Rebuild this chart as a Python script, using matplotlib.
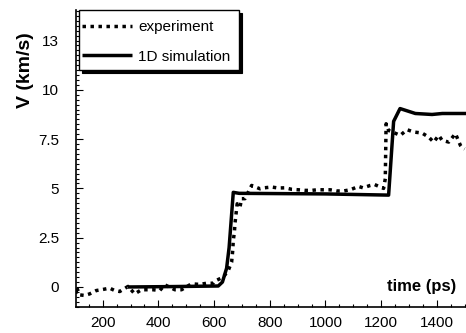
import matplotlib
matplotlib.use("Agg")
import matplotlib.pyplot as plt
from matplotlib.patches import Rectangle
from matplotlib.ticker import MultipleLocator, FixedLocator, FixedFormatter

plt.rcParams['font.family'] = ['Liberation Sans', 'DejaVu Sans']

# experiment data (time in ps, velocity km/s)
exp_t = [103, 106, 117, 135, 153, 177, 195, 225, 243, 261, 291, 315, 339, 363, 381,
         405, 423, 459, 483, 519, 549, 573, 597, 603, 633, 651, 663, 667, 669, 673,
         675, 679, 683, 693, 699, 711, 735, 765, 780, 807, 830, 855, 880, 903, 927,
         951, 970, 993, 1017, 1041, 1065, 1089, 1119, 1135, 1161, 1176, 1197, 1209,
         1215, 1218, 1227, 1269, 1293, 1317, 1347, 1371, 1389, 1407, 1419, 1443,
         1467, 1485, 1491, 1500]
exp_v = [-0.35, 0.0, -0.4, -0.43, -0.35, -0.18, -0.14, -0.06, -0.18, -0.23, 0.03,
         -0.35, -0.14, -0.14, -0.14, -0.18, 0.11, -0.14, -0.14, 0.16, 0.13, 0.19,
         0.19, 0.3, 0.5, 0.84, 1.26, 1.85, 2.36, 2.78, 3.21, 3.72, 4.22, 4.05, 4.48,
         4.48, 5.15, 4.98, 5.03, 5.07, 5.02, 5.03, 4.95, 4.93, 4.9, 4.9, 4.93, 4.93,
         4.93, 4.87, 4.87, 4.93, 5.1, 5.03, 5.15, 5.2, 5.07, 5.0, 5.49, 8.28, 7.94,
         7.69, 7.98, 7.86, 7.81, 7.6, 7.35, 7.69, 7.44, 7.35, 7.78, 7.18, 7.07, 7.0]

# 1D simulation
sim_t = [290, 450, 615, 630, 645, 654, 669, 690, 1000, 1227, 1245, 1268, 1323, 1383,
         1420, 1505]
sim_v = [0.0, 0.02, 0.05, 0.25, 0.95, 2.0, 4.8, 4.75, 4.72, 4.66, 8.4, 9.05, 8.8,
         8.75, 8.8, 8.8]

ytick_vals = [0, 2.5, 5, 7.5, 10, 12.5]
ytick_labels = ['0', '2.5', '5', '7.5', '10', '13']
xtick_vals = [200, 400, 600, 800, 1000, 1200, 1400]

fig = plt.figure(figsize=(4.66, 3.33), dpi=100)
ax = fig.add_axes([0.1625, 0.079, 0.8375, 0.891])

ax.plot(exp_t, exp_v, color='black', lw=2.5, linestyle=(0, (1, 1.3)),
        dash_capstyle='butt', label='experiment')
ax.plot(sim_t, sim_v, color='black', lw=2.5, solid_capstyle='butt',
        label='1D simulation')

ax.set_xlim(103, 1505)
ax.set_ylim(-1.0, 14.05)

ax.spines['top'].set_visible(False)
ax.spines['right'].set_visible(False)
ax.spines['left'].set_linewidth(1.2)
ax.spines['bottom'].set_linewidth(1.2)

ax.xaxis.set_major_locator(FixedLocator(xtick_vals))
ax.xaxis.set_minor_locator(MultipleLocator(50))
ax.yaxis.set_major_locator(FixedLocator(ytick_vals))
ax.yaxis.set_major_formatter(FixedFormatter(ytick_labels))
ax.yaxis.set_minor_locator(MultipleLocator(0.25))

ax.tick_params(which='both', direction='in', top=False, right=False, labelsize=11,
               width=0.8)
ax.tick_params(which='major', length=5)
ax.tick_params(which='minor', length=2.5)
ax.tick_params(axis='x', pad=7)
ax.tick_params(axis='y', pad=12)

# legend box with drop shadow (axes-fraction geometry)
bx0, by0, bw, bh = 0.0085, 0.798, 0.41, 0.202
sdx, sdy = 0.0085, 0.011
ax.add_patch(Rectangle((bx0 + sdx, by0 - sdy), bw, bh, transform=ax.transAxes,
                       facecolor='black', edgecolor='black', lw=0.8,
                       zorder=5, clip_on=False))
ax.add_patch(Rectangle((bx0, by0), bw, bh, transform=ax.transAxes,
                       facecolor='white', edgecolor='black', lw=1.0,
                       zorder=5.1, clip_on=False))

leg = ax.legend(loc='upper left', bbox_to_anchor=(-0.002, 0.988), fontsize=11,
                frameon=False, handlelength=3.3, handletextpad=0.4,
                borderpad=0.45, labelspacing=1.0, borderaxespad=0.0)
leg.set_zorder(6)

fig.text(25 / 466, 1 - 70 / 333, 'V (km/s)', rotation=90, ha='center', va='center',
         rotation_mode='anchor', fontsize=14, fontweight='bold')
fig.text(456 / 466, 1 - 286 / 333, 'time (ps)', ha='right', va='center',
         fontsize=12, fontweight='bold')

fig.savefig('out.png', dpi=100)
